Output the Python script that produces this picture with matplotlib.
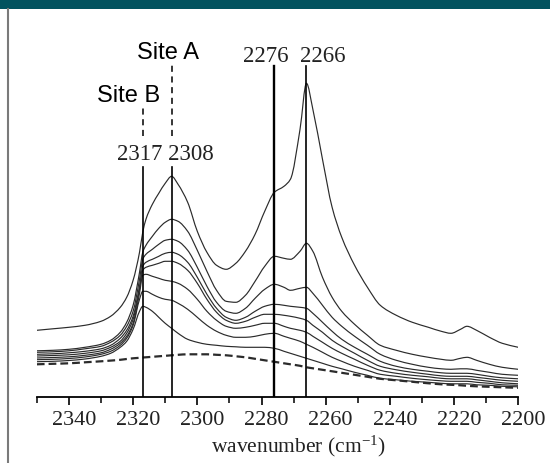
import matplotlib
matplotlib.use("Agg")
import numpy as np
import matplotlib.pyplot as plt
from matplotlib.patches import Rectangle, PathPatch
from matplotlib.lines import Line2D
from matplotlib.path import Path
from matplotlib.ticker import MultipleLocator
from matplotlib.transforms import ScaledTranslation

plt.rcParams['mathtext.fontset'] = 'custom'
plt.rcParams['mathtext.rm'] = 'Liberation Serif'
plt.rcParams['mathtext.it'] = 'Liberation Serif:italic'

# ---------------- data ----------------
wavenumber = [2350, 2345, 2340, 2335, 2330, 2327, 2324, 2322, 2320, 2318,
              2317, 2316, 2314, 2312, 2310, 2308, 2306, 2303, 2300, 2297,
              2294, 2291, 2288, 2285, 2282, 2279, 2276, 2273, 2271, 2268,
              2266, 2264, 2261, 2258, 2255, 2251, 2247, 2243, 2238, 2233,
              2228, 2224, 2221, 2218, 2216, 2213, 2209, 2205, 2200]

spec1 = [67, 68.5, 70, 72, 76, 81, 90, 100, 117, 145,
         165, 178, 193, 204, 214, 221, 213, 195, 166, 145,
         132, 128, 134, 146, 163, 186, 205, 211, 218, 268,
         314, 288, 238, 190, 160, 132, 110, 92, 82, 75,
         70, 66, 64, 68, 71, 67, 60, 54, 50]
spec2 = [46.5, 47, 48, 50, 53, 57, 65, 75, 92, 125,
         145, 152, 161, 169, 175, 178, 176, 166, 147, 126,
         107, 96, 95, 102, 116, 131, 141, 139, 138, 146,
         154, 146, 120, 100, 86, 73, 62, 52, 47, 43,
         40, 38, 37, 39, 40, 37, 33, 30, 28]
spec3 = [45, 45.5, 46.5, 48.5, 51, 55, 62, 71, 86, 118,
         138, 143, 148, 153, 157, 158, 156, 147, 130, 111,
         95, 86, 84, 89, 99, 108, 113, 110, 107, 109,
         110, 104, 92, 80, 71, 61, 52, 43, 37, 33,
         30, 28.5, 28, 28.5, 28.5, 27, 25, 23, 22]
spec4 = [43, 43.5, 44.5, 46, 48.5, 52, 59, 67, 81, 111,
         131, 135, 138, 141, 144, 145, 143, 135, 120, 103,
         89, 80, 77, 80, 86, 91, 93, 92, 91, 90,
         89, 84, 75, 66, 58, 50, 43, 36, 31, 28,
         26, 24.5, 24, 24, 24, 23, 21, 19.5, 18.5]
spec5 = [41.3, 41.8, 42.5, 44, 46.5, 50, 56, 64, 78, 108,
         127, 130, 132, 134, 136, 136, 134, 127, 114, 98,
         85, 77, 74, 76, 80, 83, 83, 82, 81, 79,
         77, 72, 65, 57, 51, 44, 37, 31, 27.5, 25,
         23, 21.5, 21, 21, 21, 20, 18.5, 17, 16]
spec6 = [39.3, 39.8, 40.5, 42, 44.5, 48, 54, 61, 74, 104,
         122, 123, 121, 119, 117, 116, 114, 108, 98, 86,
         77, 71, 69, 70, 72, 74, 74, 71, 69, 67,
         65, 61, 55, 49, 44, 38, 32, 27, 24, 22,
         20.5, 19, 18.5, 18.5, 18.5, 17.5, 16, 14.5, 13.5]
spec7 = [37.6, 38, 38.8, 40.3, 43, 46, 52, 59, 72, 98,
         106, 106, 103, 100, 98, 97, 94, 88, 80, 72,
         66, 62, 60, 60, 61, 63, 64, 61, 59, 56,
         53, 50, 45, 40, 36, 31, 27, 23, 21, 19,
         17.5, 16.5, 16, 16, 16, 15, 14, 12.5, 12]
spec8 = [35.6, 36, 36.8, 38.3, 41, 44, 50, 56, 68, 86,
         91, 90, 86, 80, 74, 69, 64, 58, 55, 53,
         52, 51, 50.5, 50, 50, 50, 49, 46, 44, 41,
         39, 37, 34, 31, 28.5, 25, 22, 19, 17.5, 16,
         15, 14, 13.5, 13.5, 13.5, 12.5, 12, 11, 10.5]
background = [33, 33.5, 34, 35, 36, 36.7, 37.5, 38.3, 39, 39.5,
              39.8, 40, 40.5, 41, 41.5, 42, 42.5, 43, 43, 43,
              42.5, 42, 41, 40, 38.5, 37, 35.5, 34, 33, 31.5,
              30, 29, 27.5, 26, 24.5, 22.5, 20.5, 18.5, 17, 15.5,
              14, 13, 12.5, 12, 11.5, 11, 10.5, 10, 9.5]
spectra = [spec1, spec2, spec3, spec4, spec5, spec6, spec7, spec8]

x_ticks = [2340, 2320, 2300, 2280, 2260, 2240, 2220, 2200]
site_b_peak = 2317
site_a_peak = 2308
peak_labels_left = "2317 2308"
peak_lines_right = [2276, 2266]
peak_labels_right = "2276  2266"

# ---------------- figure ----------------
W, H = 550, 464
fig = plt.figure(figsize=(W / 100, H / 100), dpi=100)
fig.patch.set_facecolor('white')

def fx(x):
    return x / W

def fy(y):
    return 1 - y / H

ax_left, ax_right, ax_bottom, ax_top = 36.8, 518.3, 398.3, 10.0
ax = fig.add_axes([fx(ax_left), fy(ax_bottom), (ax_right - ax_left) / W,
                   (ax_bottom - ax_top) / H])
ax.set_xlim(2350, 2200)
ax.set_ylim(0, ax_bottom - ax_top)

def ydat(py):
    return ax_bottom - py

def smooth_path(xs, ys):
    """Monotone cubic (Fritsch-Carlson) Bezier path through the points."""
    x = np.asarray(xs, float)
    y = np.asarray(ys, float)
    h = np.diff(x)
    d = np.diff(y) / h
    m = np.zeros_like(y)
    m[0], m[-1] = d[0], d[-1]
    for k in range(1, len(x) - 1):
        if d[k - 1] * d[k] <= 0:
            m[k] = 0.0
        else:
            w1 = 2 * h[k] + h[k - 1]
            w2 = h[k] + 2 * h[k - 1]
            m[k] = (w1 + w2) / (w1 / d[k - 1] + w2 / d[k])
    verts = [(x[0], y[0])]
    codes = [Path.MOVETO]
    for i in range(len(x) - 1):
        hi = h[i]
        verts += [(x[i] + hi / 3, y[i] + m[i] * hi / 3),
                  (x[i + 1] - hi / 3, y[i + 1] - m[i + 1] * hi / 3),
                  (x[i + 1], y[i + 1])]
        codes += [Path.CURVE4] * 3
    return Path(verts, codes)

line_col = '#2b2b2b'
for s in spectra:
    ax.add_patch(PathPatch(smooth_path(wavenumber, s), fill=False,
                           edgecolor=line_col, lw=0.85))
ax.add_patch(PathPatch(smooth_path(wavenumber, background), fill=False,
                       edgecolor=line_col, lw=1.6, ls=(0, (3.5, 1.8))))

# vertical marker lines
ax.plot([site_b_peak, site_b_peak], [0, ydat(168)], color='black', lw=1.2)
ax.plot([site_a_peak, site_a_peak], [0, ydat(168)], color='black', lw=1.2)
ax.plot([site_b_peak, site_b_peak], [ydat(137), ydat(106)], color='black',
        lw=1.1, ls=(0, (4, 3)))
ax.plot([site_a_peak, site_a_peak], [ydat(137), ydat(63)], color='black',
        lw=1.1, ls=(0, (4, 3)))
ax.plot([peak_lines_right[0]] * 2, [0, ydat(66.7)], color='black', lw=1.7)
ax.plot([peak_lines_right[1]] * 2, [0, ydat(66.7)], color='black', lw=1.2)

for side in ['left', 'right', 'top']:
    ax.spines[side].set_visible(False)
ax.spines['bottom'].set_linewidth(1.3)
ax.set_yticks([])
ax.set_xticks(x_ticks)
ax.xaxis.set_minor_locator(MultipleLocator(10))
ax.tick_params(axis='x', which='major', direction='out', length=6, width=1.2,
               labelsize=16, pad=3.5, colors='black')
ax.tick_params(axis='x', which='minor', direction='out', length=4, width=1.1)
shift = ScaledTranslation(5 / 100, 0, fig.dpi_scale_trans)
for lab in ax.get_xticklabels():
    lab.set_fontfamily('Liberation Serif')
    lab.set_color('#222222')
    lab.set_transform(lab.get_transform() + shift)
ax.patch.set_alpha(0)

fig.text(fx(298), fy(452), 'wavenumber (cm$^{-1}$)', fontsize=15.5,
         family='Liberation Serif', ha='center', va='baseline', color='#222222')

# annotations
fig.text(fx(168), fy(59.3), 'Site A', family='Liberation Sans', fontsize=17,
         ha='center', va='baseline')
fig.text(fx(128.7), fy(101.7), 'Site B', family='Liberation Sans', fontsize=17,
         ha='center', va='baseline')
fig.text(fx(165), fy(160), peak_labels_left, family='Liberation Serif',
         fontsize=16.5, ha='center', va='baseline', color='#222222')
fig.text(fx(294.5), fy(61.7), peak_labels_right, family='Liberation Serif',
         fontsize=16.5, ha='center', va='baseline', color='#222222')

# frame decorations
fig.add_artist(Rectangle((0, fy(9.5)), 1, 9.5 / H, transform=fig.transFigure,
                         facecolor='#02535f', edgecolor='none'))
fig.add_artist(Line2D([fx(8), fx(8)], [0, fy(9.5)], transform=fig.transFigure,
                      color='#7a7a7a', lw=1.5))

fig.savefig('out.png', dpi=100)
